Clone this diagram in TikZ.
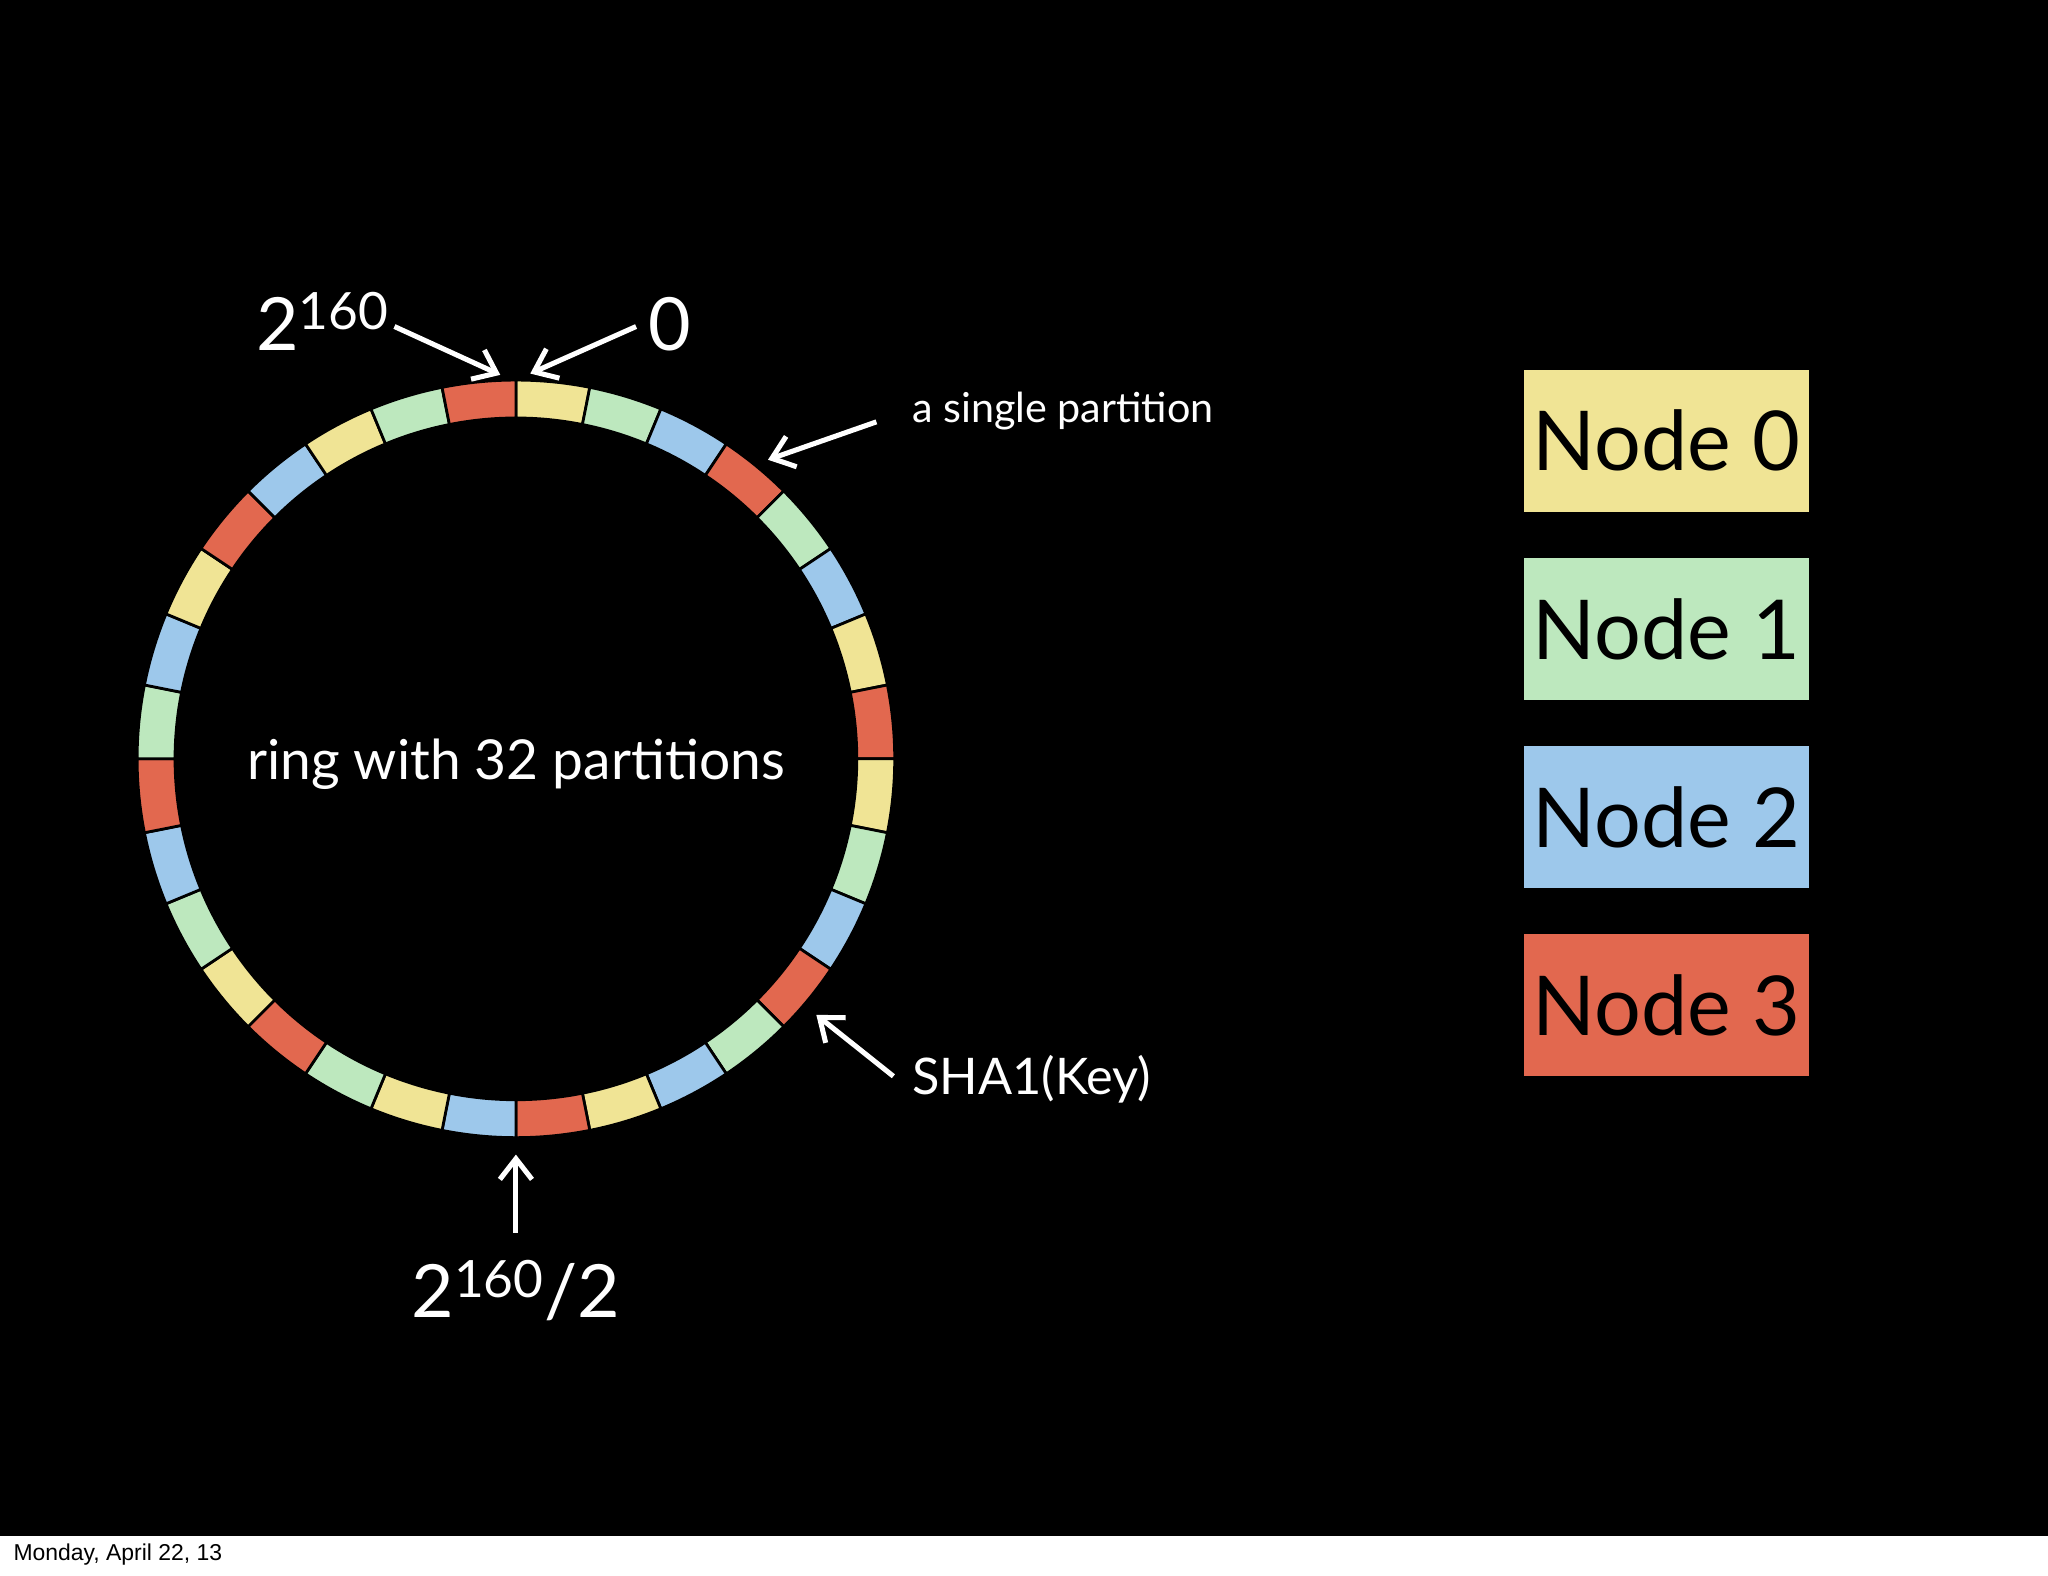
\documentclass[tikz,border=0pt]{standalone}
\usepackage{fontspec}
\usetikzlibrary{calc,arrows.meta}
\setmainfont{Lato}
\newfontfamily\footfont{Liberation Sans}
\definecolor{cy}{HTML}{F0E495}
\definecolor{cg}{HTML}{BDE8BE}
\definecolor{cb}{HTML}{9DC8EB}
\definecolor{cr}{HTML}{E2684F}
\begin{document}
\begin{tikzpicture}[x=0.02cm,y=-0.02cm,
  lbl/.style={text=white,inner sep=0pt},
  arr/.style={draw=white,line width=2.2pt,-{Straight Barb[length=9pt,width=14pt]}},
  nodebox/.style={minimum width=218*0.02cm,minimum height=109*0.02cm,inner sep=0pt,font=\fontsize{36}{40}\selectfont}]
\useasboundingbox (0,0) rectangle (1568,1206);
\fill[black] (0,0) rectangle (1568,1176);
\fill[white] (0,1176) rectangle (1568,1206);
\node[anchor=west,inner sep=0pt,font=\footfont\fontsize{10}{12}\selectfont] (foot) at (10,1190) {Monday, April 22, 13};
% ring
\coordinate (c) at (395,581);
\foreach \col [count=\i from 0] in {cy,cg,cb,cr,cg,cb,cy,cr,cy,cg,cb,cr,cg,cb,cy,cr,cb,cy,cg,cr,cy,cg,cb,cr,cg,cb,cy,cr,cb,cy,cg,cr}{
  \pgfmathsetmacro\aa{90-11.25*\i}
  \pgfmathsetmacro\ab{90-11.25*(\i+1)}
  \filldraw[fill=\col,draw=black,line width=1.2pt]
    ($(c)+({290*cos(\aa)},{-290*sin(\aa)})$) arc[start angle=\aa,end angle=\ab,radius=290*0.02cm]
    -- ($(c)+({261*cos(\ab)},{-261*sin(\ab)})$) arc[start angle=\ab,end angle=\aa,radius=261*0.02cm] -- cycle;
}
\node[lbl,font=\fontsize{24}{28}\selectfont] (ringl) at (395,585) {ring with 32 partitions};
% labels
\node[lbl,font=\fontsize{32}{36}\selectfont] (top) at (247,246) {2\textsuperscript{160}};
\node[lbl,font=\fontsize{32}{36}\selectfont] (zero) at (513,248) {0};
\node[lbl,anchor=west,font=\fontsize{18}{22}\selectfont] (single) at (698,315) {a single partition};
\node[lbl,anchor=west,font=\fontsize{22}{26}\selectfont] (sha) at (698,826) {SHA1(Key)};
\node[lbl,font=\fontsize{32}{36}\selectfont] (half) at (395,988) {2\textsuperscript{160}/2};
\coordinate (t1) at (383,287);
\coordinate (t2) at (406,286);
\coordinate (t3) at (588,352);
\coordinate (t4) at (625,777);
\coordinate (t5) at (395,884);
\draw[arr] (302,250) -- (t1);
\draw[arr] (487,250) -- (t2);
\draw[arr] (671,323) -- (t3);
\draw[arr] (684,824) -- (t4);
\draw[arr] (395,944) -- (t5);
% node boxes
\node[nodebox,fill=cy] (n0) at (1276,337.5) {Node 0};
\node[nodebox,fill=cg] (n1) at (1276,481.5) {Node 1};
\node[nodebox,fill=cb] (n2) at (1276,625.5) {Node 2};
\node[nodebox,fill=cr] (n3) at (1276,769.5) {Node 3};
\end{tikzpicture}
\end{document}
